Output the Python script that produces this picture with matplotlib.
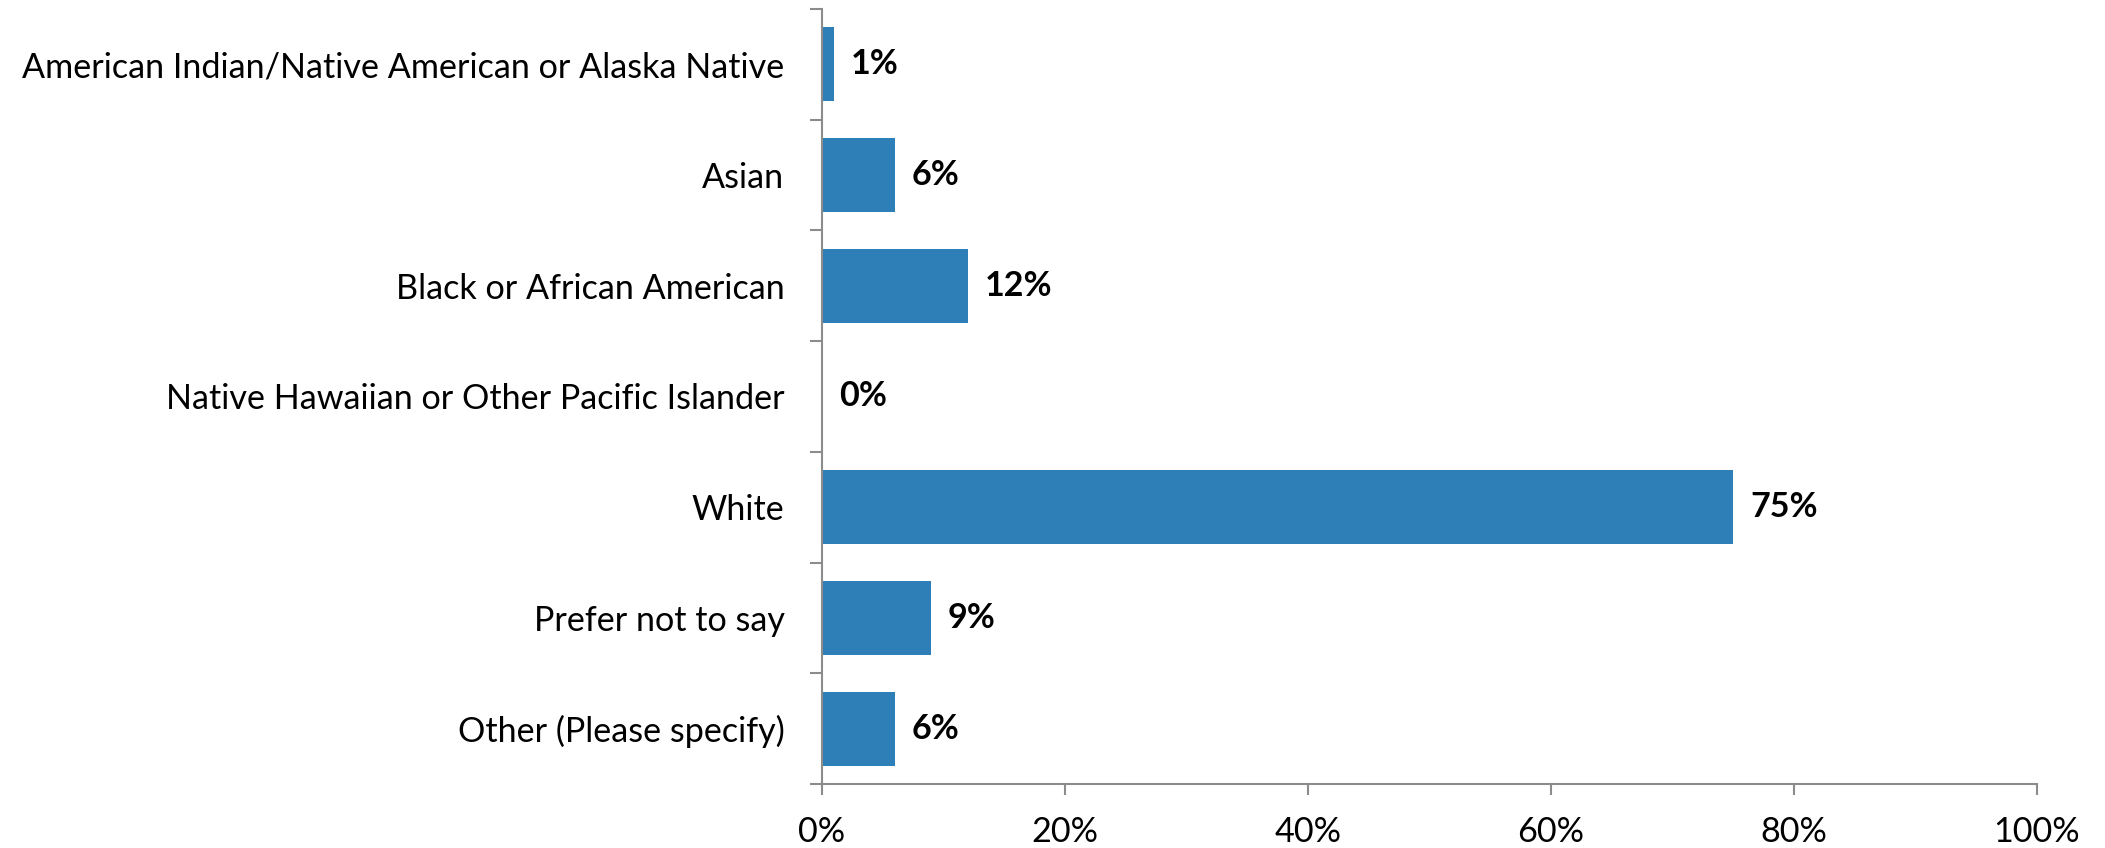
import matplotlib
matplotlib.use("Agg")
import matplotlib.pyplot as plt
import numpy as np
from matplotlib.ticker import FuncFormatter

plt.rcParams['font.family'] = ['Lato', 'DejaVu Sans']

categories = [
    "American Indian/Native American or Alaska Native",
    "Asian",
    "Black or African American",
    "Native Hawaiian or Other Pacific Islander",
    "White",
    "Prefer not to say",
    "Other (Please specify)",
]
shares = [1, 6, 12, 0, 75, 9, 6]
x_ticks = [0, 20, 40, 60, 80, 100]

bar_color = "#2E7FB8"
axis_gray = "#8C8C8C"
fsize = 24.6

fig = plt.figure(figsize=(21.05, 8.48), dpi=100)
ax = fig.add_axes([0.3905, 0.0755, 0.5772, 0.9139])

pos = np.arange(len(categories))
ax.barh(pos, shares, height=0.67, color=bar_color)

for p, v in zip(pos, shares):
    ax.annotate(f"{v}%", (v, p), xytext=(12, 0), textcoords="offset points",
                va="center", ha="left", fontsize=fsize, fontweight="bold")

ax.set_ylim(len(categories) - 0.5, -0.5)
ax.set_xlim(0, 100)

ax.set_yticks(pos)
ax.set_yticklabels(categories)
ax.set_yticks(np.arange(len(categories) + 1) - 0.5, minor=True)
ax.tick_params(axis="y", which="major", length=0, pad=27, labelsize=fsize)
ax.tick_params(axis="y", which="minor", length=9, width=1.5, color=axis_gray)

ax.set_xticks(x_ticks)
ax.xaxis.set_major_formatter(FuncFormatter(lambda v, _: f"{v:.0f}%"))
ax.tick_params(axis="x", length=8, width=1.5, color=axis_gray, pad=15, labelsize=fsize)

for side in ("top", "right"):
    ax.spines[side].set_visible(False)
for side in ("left", "bottom"):
    ax.spines[side].set_color(axis_gray)
    ax.spines[side].set_linewidth(1.5)

fig.savefig("out.png", dpi=100)
